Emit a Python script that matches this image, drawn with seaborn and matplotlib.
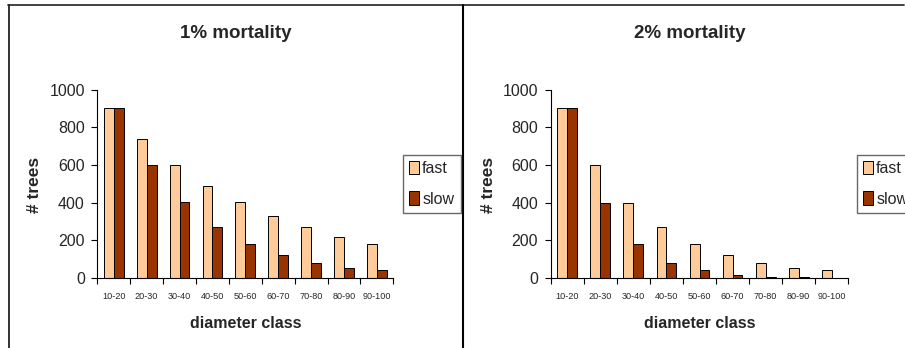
import matplotlib
matplotlib.use("Agg")
import matplotlib.pyplot as plt
from matplotlib.lines import Line2D
from matplotlib.patches import Patch
from matplotlib.ticker import FixedLocator
import numpy as np
import pandas as pd
import seaborn as sns

classes = ["10-20", "20-30", "30-40", "40-50", "50-60",
           "60-70", "70-80", "80-90", "90-100"]
fast_1pct = [900, 735, 600, 490, 403, 330, 270, 220, 180]
slow_1pct = [900, 600, 403, 270, 180, 120, 80, 55, 40]
fast_2pct = [900, 600, 400, 270, 180, 120, 80, 55, 40]
slow_2pct = [900, 400, 180, 80, 40, 18, 7, 6, 1]
titles = ["1% mortality", "2% mortality"]
growth = ["fast", "slow"]
colors = {"fast": "#FFCC99", "slow": "#993300"}

sns.set_style("white")
plt.rcParams["font.family"] = ["Liberation Sans", "DejaVu Sans"]

fig = plt.figure(figsize=(9.05, 3.48), dpi=100)
W, H = 905.0, 348.0


def long_table(fast, slow):
    return pd.DataFrame({
        "diameter class": classes * 2,
        "trees": list(fast) + list(slow),
        "growth": ["fast"] * len(classes) + ["slow"] * len(classes),
    })


panels = [
    dict(fast=fast_1pct, slow=slow_1pct, title=titles[0],
         ax_x0=97.3, ax_x1=393.3, title_x=236, ylab_x=34, xlab_x=245.5, leg_x=402.7),
    dict(fast=fast_2pct, slow=slow_2pct, title=titles[1],
         ax_x0=550.7, ax_x1=848.3, title_x=690, ylab_x=488, xlab_x=700, leg_x=856.7),
]

y_top, y_bot = 89.5, 278.0

for p in panels:
    ax = fig.add_axes([p["ax_x0"] / W, 1 - y_bot / H,
                       (p["ax_x1"] - p["ax_x0"]) / W, (y_bot - y_top) / H])
    df = long_table(p["fast"], p["slow"])
    sns.barplot(data=df, x="diameter class", y="trees", hue="growth",
                hue_order=growth, palette=colors, width=0.6, gap=0,
                edgecolor="black", linewidth=0.7, saturation=1,
                legend=False, ax=ax)
    ax.set_xlim(-0.5, len(classes) - 0.5)
    ax.set_ylim(0, 1000)
    ax.set_yticks(np.arange(0, 1001, 200))
    ax.set_xlabel("")
    ax.set_ylabel("")
    for s in ["top", "right"]:
        ax.spines[s].set_visible(False)
    for s in ["left", "bottom"]:
        ax.spines[s].set_color("black")
        ax.spines[s].set_linewidth(0.8)
    ax.xaxis.set_minor_locator(FixedLocator(np.arange(-0.5, len(classes), 1.0)))
    ax.tick_params(axis="x", which="major", length=0, pad=10, labelsize=6.6)
    ax.tick_params(axis="x", which="minor", bottom=True, length=4,
                   width=0.8, color="black", direction="out")
    ax.tick_params(axis="y", which="major", left=True, length=4, width=0.8,
                   color="black", direction="out", pad=5, labelsize=11.5)

    fig.text(p["title_x"] / W, 1 - 34 / H, p["title"], ha="center", va="center",
             fontsize=13.5, fontweight="bold")
    fig.text(p["xlab_x"] / W, 1 - 324 / H, "diameter class", ha="center",
             va="center", fontsize=11.5, fontweight="bold")
    fig.text(p["ylab_x"] / W, 1 - 185 / H, "# trees", ha="center", va="center",
             rotation=90, fontsize=12.5, fontweight="bold")

    handles = [Patch(facecolor=colors[g], edgecolor="black", linewidth=0.7, label=g)
               for g in growth]
    leg = fig.legend(handles=handles, loc="upper left",
                     bbox_to_anchor=(p["leg_x"] / W, 1 - 154.7 / H),
                     frameon=True, fancybox=False, fontsize=11.5,
                     handlelength=0.62, handleheight=0.9, handletextpad=0.2,
                     labelspacing=0.95, borderpad=0.4, borderaxespad=0)
    leg.get_frame().set_edgecolor("#444444")
    leg.get_frame().set_linewidth(1.0)

# frame lines around the two chart areas
fig.add_artist(Line2D([8 / W, 904 / W], [1 - 5 / H, 1 - 5 / H],
                      transform=fig.transFigure, color="#333333", linewidth=1.3))
fig.add_artist(Line2D([8.5 / W, 8.5 / W], [0, 1 - 5 / H],
                      transform=fig.transFigure, color="#222222", linewidth=1.3))
fig.add_artist(Line2D([463 / W, 463 / W], [0, 1 - 5 / H],
                      transform=fig.transFigure, color="black", linewidth=1.5))

fig.savefig("out.png", dpi=100)
